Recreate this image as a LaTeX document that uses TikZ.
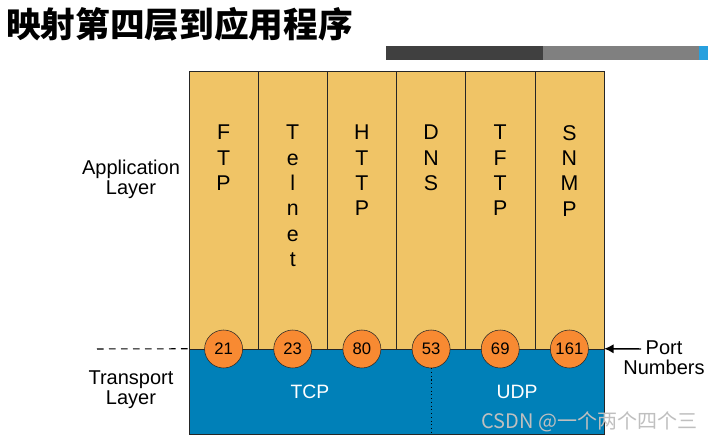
\documentclass[tikz,border=0pt]{standalone}
\usepackage{fontspec}
\setmainfont{Liberation Sans}
\newfontfamily\cjk{Noto Sans CJK SC}
\usetikzlibrary{arrows.meta, positioning}

\definecolor{appyellow}{RGB}{240,196,102}
\definecolor{tpblue}{RGB}{0,128,184}
\definecolor{portorange}{RGB}{248,138,50}
\definecolor{bardark}{RGB}{64,64,64}
\definecolor{bargray}{RGB}{128,128,128}
\definecolor{barblue}{RGB}{40,160,222}

\begin{document}
\begin{tikzpicture}[
  x=0.75pt, y=-0.75pt,
  col/.style={rectangle, draw=black!85, fill=appyellow, inner sep=0pt,
              minimum width=51.875pt, minimum height=208.5pt},
  proto/.style={anchor=north, align=center, inner sep=0pt,
                font=\fontsize{16}{19}\selectfont},
  port/.style={circle, draw=black!85, fill=portorange, inner sep=0pt,
               minimum size=28.5pt, font=\fontsize{12.5}{14}\selectfont},
  side/.style={align=center, font=\fontsize{15}{15}\selectfont},
  trans/.style={rectangle, draw=black!85, fill=tpblue, inner sep=0pt,
                minimum width=311.25pt, minimum height=63.75pt},
  arrow/.style={-{Latex[length=7pt, width=7pt]}, line width=1.1pt},
]
\useasboundingbox (0,0) rectangle (708,442);

% ---- 标题 ----
\node[anchor=west, inner sep=0pt, font=\cjk\bfseries\fontsize{26}{28}\selectfont]
     (title) at (6,24) {映射第四层到应用程序};
\fill[bardark]  (386,46) rectangle (543,60);
\fill[bargray]  (543,46) rectangle (699,60);
\fill[barblue]  (699,46) rectangle (708,60);

% ---- 应用层 ----
\node[col] (c-ftp)    at (223.6,210) {};
\node[col] (c-telnet) at (292.75,210) {};
\node[col] (c-http)   at (361.9,210) {};
\node[col] (c-dns)    at (431.1,210) {};
\node[col] (c-tftp)   at (500.25,210) {};
\node[col] (c-snmp)   at (569.4,210) {};

\node[proto] (t-ftp)    at (223.6,125)  {F\\T\\P};
\node[proto] (t-telnet) at (292.75,125) {T\\e\\l\\n\\e\\t};
\node[proto] (t-http)   at (361.9,125)  {H\\T\\T\\P};
\node[proto] (t-dns)    at (431.1,125)  {D\\N\\S};
\node[proto] (t-tftp)   at (500.25,125) {T\\F\\T\\P};
\node[proto] (t-snmp)   at (569.4,125)  {S\\N\\M\\P};

% ---- 传输层 ----
\node[trans] (transport) at (396.5,391.5) {};
\node[text=white, font=\fontsize{14.5}{16}\selectfont] (tcp) at (310,392) {TCP};
\node[text=white, font=\fontsize{14.5}{16}\selectfont] (udp) at (517,392) {UDP};

% ---- 端口号 ----
\node[port] (p21)  at (223.6,349)  {21};
\node[port] (p23)  at (292.75,349) {23};
\node[port] (p80)  at (361.9,349)  {80};
\node[port] (p53)  at (431.1,349)  {53};
\node[port] (p69)  at (500.25,349) {69};
\node[port] (p161) at (569.4,349)  {161};

\draw[dotted, line width=0.8pt] (p53.south) -- (p53.south |- transport.south);

% ---- 左侧标注 ----
\node[side] (applayer)   at (131,179) {Application\\Layer};
\node[side] (translayer) at (131,390) {Transport\\Layer};
\coordinate (dashstart) at (97,349);
\draw[dash pattern=on 5pt off 4pt, line width=0.8pt] (dashstart) -- (transport.north west);

% ---- 右侧标注 ----
\node[side] (ports) at (664,358) {Port\\Numbers};
\coordinate (arrowtail) at (641,349);
\draw[arrow] (arrowtail) -- (transport.north east);

% ---- 水印 ----
\node[anchor=west, inner sep=0pt, text=black!25, font=\cjk\fontsize{15}{16}\selectfont]
     (mark) at (481,422) {CSDN @一个两个四个三};

\end{tikzpicture}
\end{document}
